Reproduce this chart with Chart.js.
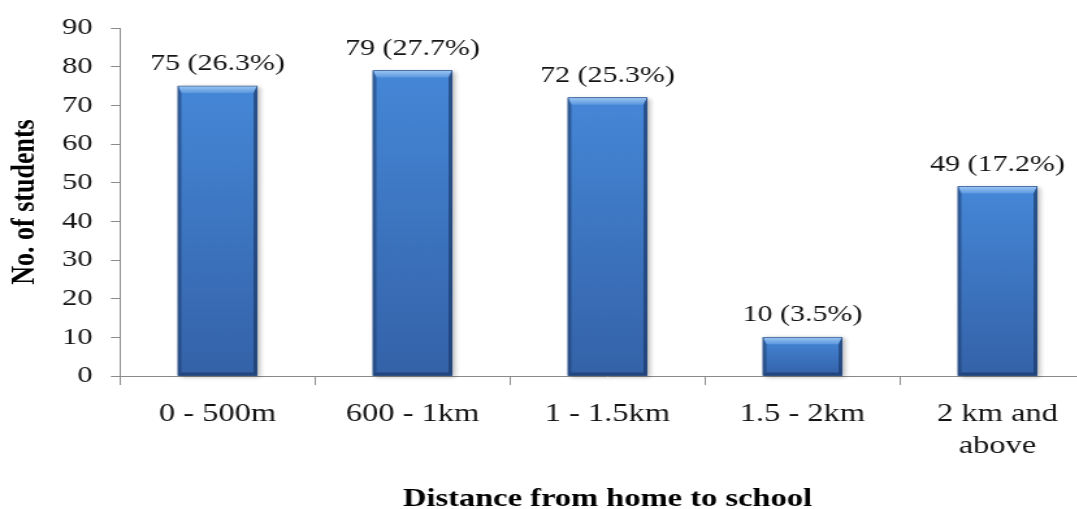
<!DOCTYPE html>
<html>
<head>
<meta charset="utf-8">
<script src="https://cdn.jsdelivr.net/npm/chart.js@4.4.1/dist/chart.umd.min.js"></script>
<style>
  html, body { margin: 0; padding: 0; background: #fff; overflow: hidden; width: 1077px; height: 509px; }
  #wrap { position: absolute; left: 0; top: 0; transform: scaleX(1.3); transform-origin: 0 0; }
  canvas { display: block; }
</style>
</head>
<body>
<div id="wrap"><canvas id="chart" width="850" height="520"></canvas></div>
<script>
// Distance bands and number of students in each
const categories = ['0 - 500m', '600 - 1km', '1 - 1.5km', '1.5 - 2km', ['2 km and', 'above']];
const students = [75, 79, 72, 10, 49];
const percents = [26.3, 27.7, 25.3, 3.5, 17.2];
const yMin = 0;
const yMax = 90;
const yStep = 10;

const SERIF = '"Liberation Serif", "Times New Roman", serif';
const AXIS_GREY = '#8a8a8a';

// Soft drop shadow behind each bar, then a bevelled blue face on top of it
const bevelBars = {
  id: 'bevelBars',
  beforeDatasetsDraw(chart) {
    const ctx = chart.ctx;
    chart.getDatasetMeta(0).data.forEach(bar => {
      const { x, y, base, width } = bar.getProps(['x', 'y', 'base', 'width'], true);
      ctx.save();
      ctx.shadowColor = 'rgba(0,0,0,0.28)';
      ctx.shadowBlur = 4;
      ctx.shadowOffsetX = 2;
      ctx.shadowOffsetY = 1;
      ctx.fillStyle = '#3a70bd';
      ctx.fillRect(x - width / 2, y, width, base - y);
      ctx.restore();
    });
  },
  afterDatasetsDraw(chart) {
    const ctx = chart.ctx;
    chart.getDatasetMeta(0).data.forEach(bar => {
      const { x, y, base, width } = bar.getProps(['x', 'y', 'base', 'width'], true);
      const l = x - width / 2, r = x + width / 2;
      const e = 2.6, th = 7, bh = 3;
      ctx.save();
      // face
      const g = ctx.createLinearGradient(0, y, 0, base);
      g.addColorStop(0, '#4587d7');
      g.addColorStop(1, '#3462a8');
      ctx.fillStyle = g;
      ctx.fillRect(l, y, width, base - y);
      // top bevel
      const gt = ctx.createLinearGradient(0, y, 0, y + th);
      gt.addColorStop(0, '#9cc6f2');
      gt.addColorStop(1, '#5a97df');
      ctx.fillStyle = gt;
      ctx.beginPath();
      ctx.moveTo(l, y); ctx.lineTo(r, y); ctx.lineTo(r - e, y + th); ctx.lineTo(l + e, y + th);
      ctx.closePath(); ctx.fill();
      // left edge
      ctx.fillStyle = 'rgba(30,62,112,0.55)';
      ctx.beginPath();
      ctx.moveTo(l, y); ctx.lineTo(l + e, y + th); ctx.lineTo(l + e, base - bh); ctx.lineTo(l, base);
      ctx.closePath(); ctx.fill();
      // right edge
      ctx.fillStyle = 'rgba(24,52,98,0.65)';
      ctx.beginPath();
      ctx.moveTo(r, y); ctx.lineTo(r - e, y + th); ctx.lineTo(r - e, base - bh); ctx.lineTo(r, base);
      ctx.closePath(); ctx.fill();
      // bottom edge
      ctx.fillStyle = 'rgba(22,46,88,0.55)';
      ctx.beginPath();
      ctx.moveTo(l, base); ctx.lineTo(l + e, base - bh); ctx.lineTo(r - e, base - bh); ctx.lineTo(r, base);
      ctx.closePath(); ctx.fill();
      // outline
      ctx.strokeStyle = 'rgba(35,68,120,0.7)';
      ctx.lineWidth = 0.8;
      ctx.strokeRect(l, y, width, base - y);
      ctx.restore();
    });
  }
};

// "count (percent%)" above each bar
const valueLabels = {
  id: 'valueLabels',
  afterDatasetsDraw(chart) {
    const ctx = chart.ctx;
    ctx.save();
    ctx.font = '23px ' + SERIF;
    ctx.fillStyle = '#141414';
    ctx.textAlign = 'center';
    ctx.textBaseline = 'alphabetic';
    chart.getDatasetMeta(0).data.forEach((bar, i) => {
      const { x, y } = bar.getProps(['x', 'y'], true);
      ctx.fillText(students[i] + ' (' + percents[i] + '%)', x, y - 16);
    });
    ctx.restore();
  }
};

new Chart(document.getElementById('chart'), {
  type: 'bar',
  data: {
    labels: categories,
    datasets: [{
      data: students,
      backgroundColor: '#3d77c4',
      borderWidth: 0,
      categoryPercentage: 1.0,
      barPercentage: 0.405
    }]
  },
  options: {
    responsive: false,
    animation: false,
    devicePixelRatio: 1,
    layout: { padding: { top: 19.5, left: 0, right: 7.7, bottom: 0 } },
    plugins: { legend: { display: false }, tooltip: { enabled: false } },
    scales: {
      x: {
        grid: { offset: true, drawOnChartArea: false, drawTicks: true, tickLength: 9, color: AXIS_GREY },
        border: { color: AXIS_GREY, width: 1 },
        ticks: {
          font: { family: SERIF, size: 25, lineHeight: 1.3 },
          color: '#141414',
          padding: 13,
          maxRotation: 0,
          autoSkip: false
        },
        title: {
          display: true,
          text: 'Distance from home to school',
          font: { family: SERIF, size: 25, weight: 'bold' },
          color: '#000',
          padding: { top: 0, bottom: 5 }
        },
        afterFit(scale) { scale.height = 144; }
      },
      y: {
        min: yMin,
        max: yMax,
        grid: { drawOnChartArea: false, drawTicks: true, tickLength: 7, color: AXIS_GREY },
        border: { color: AXIS_GREY, width: 1 },
        ticks: {
          stepSize: yStep,
          font: { family: SERIF, size: 23.5 },
          color: '#141414',
          padding: 14
        },
        title: {
          display: true,
          text: 'No. of students',
          font: { family: SERIF, size: 26, weight: 'bold' },
          color: '#000',
          padding: { top: 4, bottom: 0 }
        },
        afterFit(scale) { scale.width = 92.3; }
      }
    }
  },
  plugins: [bevelBars, valueLabels]
});
</script>
</body>
</html>
